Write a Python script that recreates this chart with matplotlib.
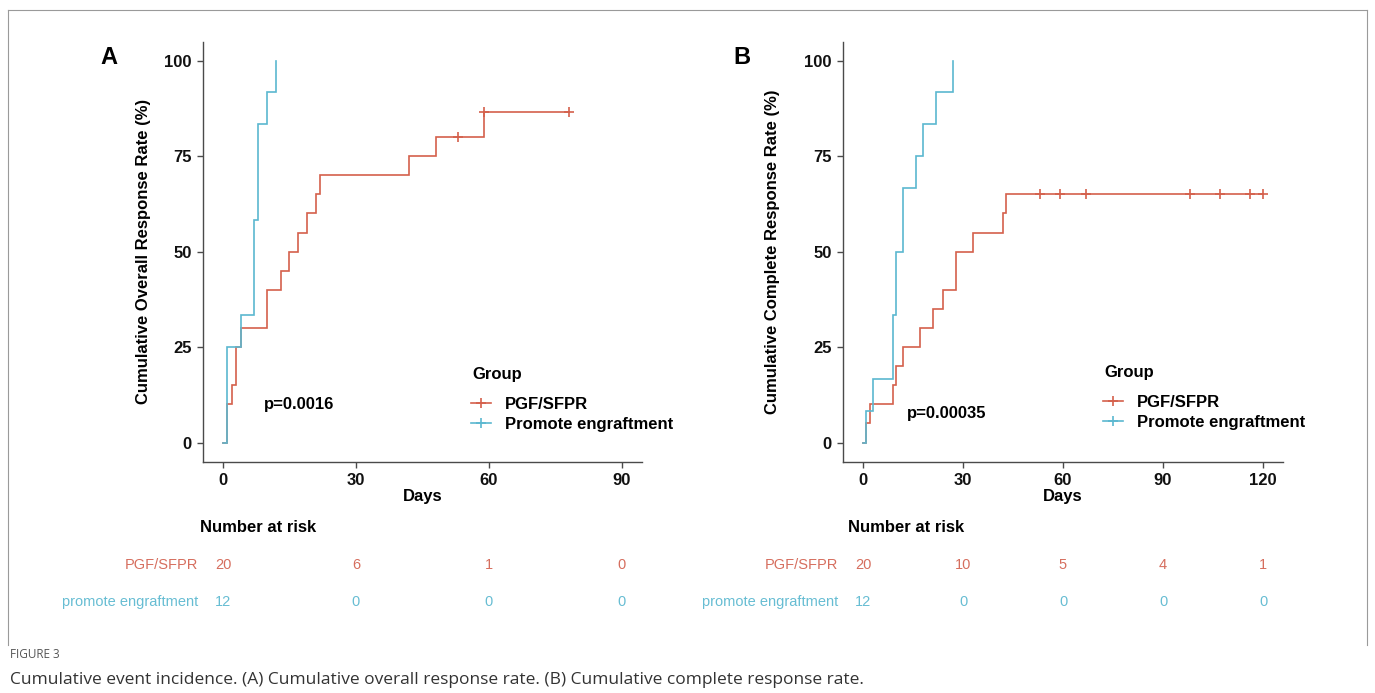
import matplotlib
matplotlib.use('Agg')
import matplotlib.pyplot as plt
import numpy as np
from matplotlib.lines import Line2D

plt.rcParams['font.family'] = ['Liberation Sans', 'DejaVu Sans']

# ---------------- data ----------------
group_names = ["PGF/SFPR", "Promote engraftment"]
risk_labels = ["PGF/SFPR", "promote engraftment"]

# Panel A: cumulative overall response rate (%)
a_pgf_times = [0, 1, 2, 3, 4, 10, 13, 15, 17, 19, 21, 22, 42, 48, 59, 78]
a_pgf_rates = [0, 10, 15, 25, 30, 40, 45, 50, 55, 60, 65, 70, 75, 80, 86.67, 86.67]
a_pgf_censor = [53, 59, 78]
a_pe_times = [0, 1, 4, 7, 8, 10, 12]
a_pe_rates = [0, 25, 33.33, 58.33, 83.33, 91.67, 100]
a_pe_censor = []
a_pvalue = "p=0.0016"
a_xticks = [0, 30, 60, 90]
a_risk_pgf = [20, 6, 1, 0]
a_risk_pe = [12, 0, 0, 0]

# Panel B: cumulative complete response rate (%)
b_pgf_times = [0, 1, 2, 9, 10, 12, 17, 21, 24, 28, 33, 42, 43, 120]
b_pgf_rates = [0, 5, 10, 15, 20, 25, 30, 35, 40, 50, 55, 60, 65, 65]
b_pgf_censor = [53, 59, 67, 98, 107, 116, 120]
b_pe_times = [0, 1, 3, 9, 10, 12, 16, 18, 22, 27]
b_pe_rates = [0, 8.33, 16.67, 33.33, 50, 66.67, 75, 83.33, 91.67, 100]
b_pe_censor = []
b_pvalue = "p=0.00035"
b_xticks = [0, 30, 60, 90, 120]
b_risk_pgf = [20, 10, 5, 4, 1]
b_risk_pe = [12, 0, 0, 0, 0]

yticks = [0, 25, 50, 75, 100]

RED = '#D4604C'
CYAN = '#5BB8D0'
RED_T = '#D66E5E'
CYAN_T = '#67BDD3'
AXC = '#4a4a4a'

W, H = 1375, 693
fig = plt.figure(figsize=(W / 100, H / 100), dpi=100)


def fx(px):
    return px / W


def fy(py):
    return 1 - py / H


def step_value(times, rates, t):
    i = np.searchsorted(np.asarray(times), t, side='right') - 1
    return rates[max(i, 0)]


def panel(left_px, right_px, xlim, xticks, pgf_t, pgf_r, pgf_c, pe_t, pe_r, pe_c,
          ylabel, letter, letter_px, pval, pval_xy, group_px, leg_px, risk_pgf, risk_pe,
          nar_px, ylabel_x_px):
    top_px, bot_px = 41.5, 461.7
    ax = fig.add_axes([fx(left_px), fy(bot_px), fx(right_px - left_px), (bot_px - top_px) / H])
    ax.step(pgf_t, pgf_r, where='post', color=RED, lw=1.2, solid_joinstyle='miter')
    ax.step(pe_t, pe_r, where='post', color=CYAN, lw=1.2, solid_joinstyle='miter')
    for c in pgf_c:
        ax.plot(c, step_value(pgf_t, pgf_r, c), marker='+', color=RED, ms=7, mew=1.2)
    for c in pe_c:
        ax.plot(c, step_value(pe_t, pe_r, c), marker='+', color=CYAN, ms=7, mew=1.2)
    ax.set_xlim(*xlim)
    ax.set_ylim(-5, 105)
    ax.set_xticks(xticks)
    ax.set_yticks(yticks)
    for s in ['top', 'right']:
        ax.spines[s].set_visible(False)
    for s in ['left', 'bottom']:
        ax.spines[s].set_color(AXC)
        ax.spines[s].set_linewidth(1.0)
    ax.tick_params(direction='out', length=4, width=1, color=AXC, labelsize=12, pad=4)
    for lab in ax.get_xticklabels() + ax.get_yticklabels():
        lab.set_fontweight('bold')
        lab.set_color('#111111')
    ax.set_xlabel('Days', fontsize=12, fontweight='bold', va='center')
    ax.xaxis.set_label_coords(0.5, (bot_px - 497) / (bot_px - top_px))
    ax.set_ylabel(ylabel, fontsize=12, fontweight='bold', va='center')
    ax.yaxis.set_label_coords((ylabel_x_px - left_px) / (right_px - left_px), 0.5)
    ax.text(pval_xy[0], pval_xy[1], pval, fontsize=12, fontweight='bold', ha='left', va='center')
    fig.text(fx(letter_px[0]), fy(letter_px[1]), letter, fontsize=17, fontweight='bold',
             ha='center', va='center')
    # legend
    fig.text(fx(group_px[0]), fy(group_px[1]), 'Group', fontsize=12, fontweight='bold',
             ha='left', va='center')
    handles = [Line2D([], [], color=RED, lw=1.2, marker='+', ms=7, mew=1.2),
               Line2D([], [], color=CYAN, lw=1.2, marker='+', ms=7, mew=1.2)]
    ax.legend(handles, group_names, loc='upper left',
              bbox_to_anchor=(fx(leg_px[0]), fy(leg_px[1])), bbox_transform=fig.transFigure,
              frameon=False, prop={'size': 12, 'weight': 'bold'},
              handlelength=1.2, handletextpad=0.85,
              labelspacing=0.3, borderpad=0, borderaxespad=0)

    # risk table
    rax = fig.add_axes([fx(left_px), fy(620.5), fx(right_px - left_px), 74 / H])
    rax.set_xlim(*xlim)
    rax.set_ylim(1.5, -0.5)
    rax.axis('off')
    for row, (vals, col, lab) in enumerate([(risk_pgf, RED_T, risk_labels[0]),
                                            (risk_pe, CYAN_T, risk_labels[1])]):
        for xv, v in zip(xticks, vals):
            rax.text(xv, row, str(v), color=col, fontsize=10.5, ha='center', va='center')
        rax.annotate(lab, xy=(0, row), xycoords=('axes fraction', 'data'),
                     xytext=(-5, 0), textcoords='offset pixels', ha='right', va='center',
                     color=col, fontsize=10.5)
    fig.text(fx(nar_px[0]), fy(nar_px[1]), 'Number at risk', fontsize=12, fontweight='bold',
             ha='left', va='center')
    return ax


panel(203, 641.7, (-4.5, 94.5), a_xticks, a_pgf_times, a_pgf_rates, a_pgf_censor,
      a_pe_times, a_pe_rates, a_pe_censor, 'Cumulative Overall Response Rate (%)',
      'A', (109, 57), a_pvalue, (9.2, 10), (472, 375), (471, 397), a_risk_pgf, a_risk_pe,
      (200, 527), 143)
panel(843, 1283, (-6, 126), b_xticks, b_pgf_times, b_pgf_rates, b_pgf_censor,
      b_pe_times, b_pe_rates, b_pe_censor, 'Cumulative Complete Response Rate (%)',
      'B', (742, 57), b_pvalue, (13.1, 7.7), (1104, 373), (1103, 395), b_risk_pgf, b_risk_pe,
      (848, 527), 773)

# outer frame (left, top, right)
for xs, ys in [([8, 8], [10, 645]), ([8, 1367], [10, 10]), ([1367, 1367], [10, 645])]:
    fig.add_artist(Line2D([fx(v) for v in xs], [fy(v) for v in ys], color='#9a9a9a', lw=0.8))

fig.text(fx(10), fy(655), 'FIGURE 3', fontsize=8.5, color='#555555', ha='left', va='center',
         family=['Open Sans', 'DejaVu Sans'])
fig.text(fx(10), fy(680), 'Cumulative event incidence. (A) Cumulative overall response rate. '
         '(B) Cumulative complete response rate.', fontsize=12.5, color='#333333',
         ha='left', va='center', family=['Open Sans', 'DejaVu Sans'])

fig.savefig('out.png', dpi=100)
